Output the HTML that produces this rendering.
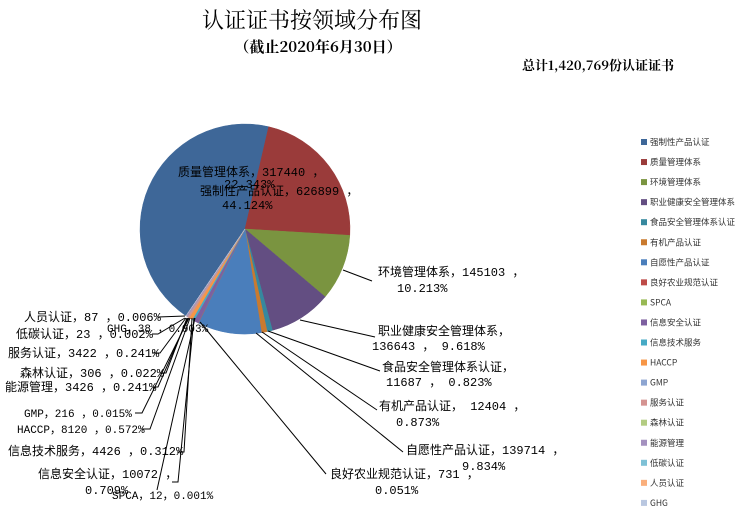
<!DOCTYPE html>
<html><head><meta charset="utf-8"><style>
body{margin:0;background:#fff;}
svg{display:block;font-family:"Liberation Sans","Noto Sans CJK SC",sans-serif;}
.l{font-size:12px;fill:#000;font-family:"Liberation Mono","Noto Sans CJK SC",monospace;}
.g{font-size:8.5px;fill:#333;font-family:"Noto Sans CJK SC",sans-serif;}
</style></head><body>
<svg id="s" width="748" height="517" xmlns="http://www.w3.org/2000/svg">
<text x="312" y="28" font-size="22" text-anchor="middle" font-family="Noto Serif CJK SC,serif">认证证书按领域分布图</text>
<text x="318" y="52" font-size="15" font-weight="bold" text-anchor="middle" font-family="Noto Serif CJK SC,serif">（截止2020年6月30日）</text>
<text x="522" y="70" font-size="13" font-weight="bold" font-family="Noto Serif CJK SC,serif">总计1,420,769份认证证书</text>
<g id="pie"></g>
<g stroke="#000" stroke-width="1" fill="none">
<polyline points="343,270 372,281"/>
<polyline points="300,320 375,337"/>
<polyline points="268,331 380,371"/>
<polyline points="262,332 377,410"/>
<polyline points="256,333 403,452"/>
<polyline points="200,322 326,474"/>
<polyline points="158,317 185,316"/>
<polyline points="152,334 158,334 185,318"/>
<polyline points="152,353 160,353 186,318"/>
<polyline points="160,373 166,373 187,318"/>
<polyline points="153,387 158,387 188,318"/>
<polyline points="135,413 142,413 189,318"/>
<polyline points="142,429 150,429 190,318"/>
<polyline points="177,452 184,452 192,318"/>
<polyline points="172,482 178,482 194,318"/>
<polyline points="157,490 195,318"/>
</g>
<g class="l">
<text x="178" y="176">质量管理体系，317440 ，</text>
<text x="224" y="188">22.343%</text>
<text x="200" y="195">强制性产品认证，626899 ，</text>
<text x="222" y="209">44.124%</text>
<text x="378" y="276">环境管理体系，145103 ，</text>
<text x="397" y="292">10.213%</text>
<text x="378" y="335">职业健康安全管理体系，</text>
<text x="372" y="350">136643 ， 9.618%</text>
<text x="382" y="371">食品安全管理体系认证，</text>
<text x="386" y="386">11687 ， 0.823%</text>
<text x="379" y="410">有机产品认证， 12404 ，</text>
<text x="396" y="426">0.873%</text>
<text x="406" y="454">自愿性产品认证，139714 ，</text>
<text x="462" y="470">9.834%</text>
<text x="330" y="478">良好农业规范认证，731 ，</text>
<text x="375" y="494">0.051%</text>
<text x="24" y="321">人员认证，87 ，0.006%</text>
<text x="107" y="332" font-size="11">GHG，38 ，0.003%</text>
<text x="16" y="338">低碳认证，23 ，0.002%</text>
<text x="8" y="357">服务认证，3422 ，0.241%</text>
<text x="20" y="377">森林认证，306 ，0.022%</text>
<text x="5" y="391">能源管理，3426 ，0.241%</text>
<text x="24" y="417" font-size="11">GMP，216 ，0.015%</text>
<text x="17" y="433" font-size="11">HACCP，8120 ，0.572%</text>
<text x="8" y="455">信息技术服务，4426 ，0.312%</text>
<text x="38" y="478">信息安全认证，10072 ，</text>
<text x="85" y="494">0.709%</text>
<text x="112" y="499" font-size="11" fill="#000">SPCA，12，0.001%</text>
</g>
<g id="leg"></g>
</svg>
<script>
var p=[44.124,22.343,10.213,9.618,0.823,0.873,9.834,0.051,0.001,0.709,0.312,0.572,0.015,0.241,0.022,0.241,0.002,0.006,0.003];
var c=["#3E6798","#9A3B3A","#7A9440","#634E82","#36889E","#C97A2F","#4A7EBB","#BE4B48","#98B954","#7D60A0","#46AAC5","#F79646","#8DA5D1","#D49391","#B3CC82","#A491BF","#7EC1D6","#FAAF7C","#B9C7E0"];
var n=["强制性产品认证","质量管理体系","环境管理体系","职业健康安全管理体系","食品安全管理体系认证","有机产品认证","自愿性产品认证","良好农业规范认证","SPCA","信息安全认证","信息技术服务","HACCP","GMP","服务认证","森林认证","能源管理","低碳认证","人员认证","GHG"];
var cx=245,cy=229,r=105,a=214.2,h="",tot=p.reduce((x,y)=>x+y,0);
function pt(d){var t=(d-90)*Math.PI/180;return (cx+r*Math.cos(t)).toFixed(2)+","+(cy+r*Math.sin(t)).toFixed(2);}
for(var i=0;i<p.length;i++){var s=p[i]/tot*360;var e=a+s;
h+='<path d="M'+cx+','+cy+' L'+pt(a)+' A'+r+','+r+' 0 '+(s>180?1:0)+',1 '+pt(e)+' Z" fill="'+c[i]+'" stroke="'+c[i]+'" stroke-width="0.5"/>';a=e;}
document.getElementById("pie").innerHTML=h;
var g="";for(i=0;i<19;i++){var y=142+i*20.05;g+='<rect x="641" y="'+(y-3)+'" width="6" height="6" fill="'+c[i]+'"/><text class="g" x="650" y="'+(y+3)+'">'+n[i]+'</text>';}
document.getElementById("leg").innerHTML=g;
</script>
</body></html>
